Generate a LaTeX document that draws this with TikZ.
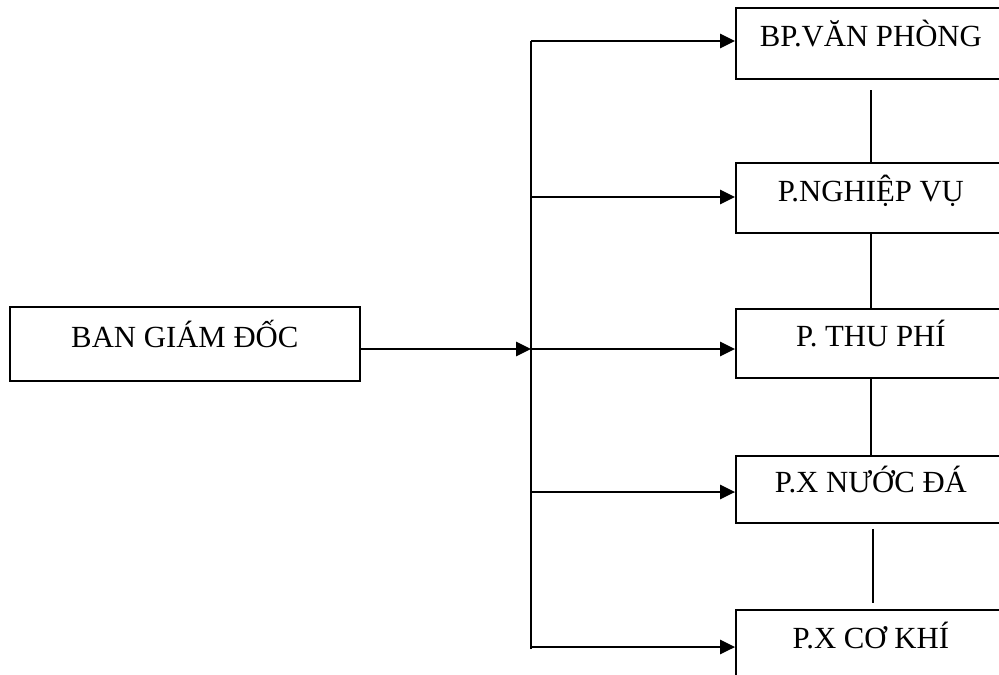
\documentclass[tikz,border=0pt]{standalone}
\usepackage{fontspec}
\setmainfont{Liberation Serif}
\usetikzlibrary{arrows.meta}
\tikzset{
  khung/.style={draw,line width=1pt,inner sep=0pt,minimum height=1.42cm,
    text height=0.5cm,text depth=0.36cm,anchor=north west},
  noi/.style={line width=0.85pt}
}
\begin{document}
\begin{tikzpicture}[x=0.02cm,y=-0.02cm,>={Triangle[length=0.3cm,width=0.29cm]},line join=miter,font=\fontsize{17.5}{20}\selectfont]
			\clip (0,0) rectangle (999,674);
			\fill[white] (0,0) rectangle (999,674);
			\node[khung,minimum width=7cm,minimum height=1.48cm] (bgd) at (9,306) {BAN GI\'AM ĐỐC};
			\node[khung,minimum width=5.4cm] (vp) at (735,7) {BP.VĂN PHÒNG};
			\node[khung,minimum width=5.4cm,minimum height=1.40cm] (nv) at (735,162) {P.NGHIỆP VỤ};
			\node[khung,minimum width=5.4cm,minimum height=1.38cm] (tp) at (735,308) {P. THU PH\'I};
			\node[khung,minimum width=5.4cm,minimum height=1.34cm] (nd) at (735,455) {P.X NƯỚC Đ\'A};
			\node[khung,minimum width=5.4cm] (ck) at (735,609) {P.X CƠ KH\'I};
			% truc doc
			\coordinate (t1) at (531,41);
			\coordinate (t2) at (531,197);
			\coordinate (t3) at (531,349);
			\coordinate (t4) at (531,492);
			\coordinate (t5) at (531,647);
			\coordinate (day) at (531,649);
			\draw[noi] (day)--(t1);
			\draw[noi,->] (bgd.east |- t3)--(t3);
			\draw[noi,->] (t1)--(t1 -| vp.west);
			\draw[noi,->] (t2)--(t2 -| nv.west);
			\draw[noi,->] (t3)--(t3 -| tp.west);
			\draw[noi,->] (t4)--(t4 -| nd.west);
			\draw[noi,->] (t5)--(t5 -| ck.west);
			% duong noi giua cac phong
			\draw[noi,shorten <=7\pgflinewidth] (vp.south)--(nv.north);
			\draw[noi] (nv.south)--(tp.north);
			\draw[noi] (tp.south)--(nd.north);
			\draw[noi,shorten <=0.1cm,shorten >=0.12cm] ([xshift=0.04cm]nd.south)--([xshift=0.04cm]ck.north);
		\end{tikzpicture}
\end{document}
